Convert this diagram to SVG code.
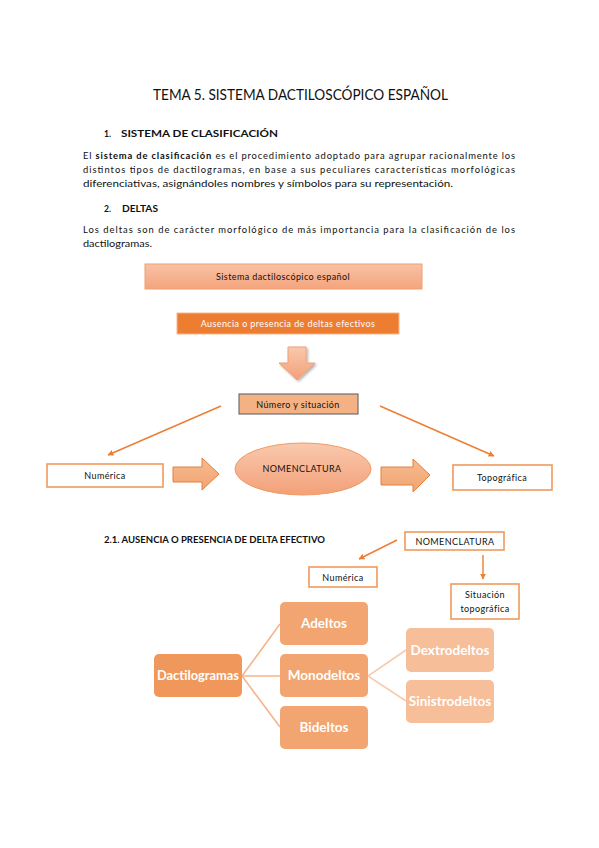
<svg xmlns="http://www.w3.org/2000/svg" width="599" height="848" viewBox="0 0 599 848">
<defs>
<style>
text{font-family:Lato,"Liberation Sans",sans-serif;fill:#111}
.t{font-size:15px}
.h{font-size:8.6px;font-weight:bold}
.p{font-size:9.4px}
.b{font-weight:bold}
.s{font-size:9px;text-anchor:middle;letter-spacing:0.4px}
.w{fill:#fff}
.tree{font-size:13.5px;font-weight:bold;fill:#fff;text-anchor:middle}
.wbox{fill:#fff;stroke:#f09a5e;stroke-width:1.6}
.con{fill:none;stroke:#ed7d31;stroke-width:1.4}
.bl{fill:none;stroke:#f5b58c;stroke-width:1.6}
.bl2{fill:none;stroke:#f8cbad;stroke-width:1.6}
.barrow{fill:url(#ga);stroke:#e0803e;stroke-width:1}
</style>
<linearGradient id="gs" x1="0" y1="0" x2="0" y2="1"><stop offset="0" stop-color="#f8c2a6"/><stop offset="1" stop-color="#f4a47c"/></linearGradient>
<linearGradient id="ge" x1="0" y1="0" x2="0" y2="1"><stop offset="0" stop-color="#f9c9ae"/><stop offset="1" stop-color="#f3a078"/></linearGradient>
<linearGradient id="ga" x1="0" y1="0" x2="0" y2="1"><stop offset="0" stop-color="#f6bb92"/><stop offset="1" stop-color="#f2a46f"/></linearGradient>
<marker id="ah" viewBox="0 0 10 10" refX="9" refY="5" markerWidth="6" markerHeight="6" orient="auto" markerUnits="userSpaceOnUse"><path d="M0,0 L10,5 L0,10 z" fill="#ed7d31"/></marker>
<filter id="sh" x="-20%" y="-20%" width="150%" height="150%"><feDropShadow dx="1.5" dy="1.5" stdDeviation="1.2" flood-color="#000" flood-opacity="0.3"/></filter>
</defs>

<g id="texto">
<text class="t" x="153" y="100" textLength="295" lengthAdjust="spacingAndGlyphs">TEMA 5. SISTEMA DACTILOSCÓPICO ESPAÑOL</text>
<text class="h" x="104" y="137">1.</text>
<text class="h" x="121" y="137" textLength="157" lengthAdjust="spacingAndGlyphs">SISTEMA DE CLASIFICACIÓN</text>
<text class="p" x="83" y="159" textLength="432" lengthAdjust="spacing">El <tspan class="b">sistema de clasificación</tspan> es el procedimiento adoptado para agrupar racionalmente los</text>
<text class="p" x="83" y="173" textLength="432" lengthAdjust="spacing">distintos tipos de dactilogramas, en base a sus peculiares características morfológicas</text>
<text class="p" x="83" y="187" textLength="370" lengthAdjust="spacingAndGlyphs">diferenciativas, asignándoles nombres y símbolos para su representación.</text>
<text class="h" x="104" y="212">2.</text>
<text class="h" x="122" y="212" textLength="36" lengthAdjust="spacingAndGlyphs">DELTAS</text>
<text class="p" x="83" y="233" textLength="432" lengthAdjust="spacing">Los deltas son de carácter morfológico de más importancia para la clasificación de los</text>
<text class="p" x="83" y="247" textLength="69" lengthAdjust="spacingAndGlyphs">dactilogramas.</text>
<text class="h" x="104" y="543" textLength="221" lengthAdjust="spacingAndGlyphs">2.1. AUSENCIA O PRESENCIA DE DELTA EFECTIVO</text>
</g>

<g id="connectors">
<line class="con" x1="221" y1="406" x2="108" y2="455" marker-end="url(#ah)"/>
<line class="con" x1="380" y1="406" x2="494" y2="456" marker-end="url(#ah)"/>
<line class="con" x1="397" y1="540" x2="359" y2="559" marker-end="url(#ah)"/>
<line class="con" x1="483" y1="555" x2="483" y2="579" marker-end="url(#ah)"/>
<polyline class="bl" points="280,624 242,676 280,676"/>
<line class="bl" x1="242" y1="676" x2="280" y2="727"/>
<polyline class="bl2" points="406,650 368,676 406,701"/>
</g>

<g id="n-sistema">
<rect x="145" y="264" width="277" height="25" fill="url(#gs)" stroke="#f0a070" stroke-width="1"/>
<text class="s" x="283" y="280" letter-spacing="0">Sistema dactiloscópico español</text>
</g>

<g id="n-ausencia">
<rect x="177" y="313" width="222" height="21" fill="#ed7d31" stroke="#f6b890" stroke-width="1"/>
<text class="s w" x="288" y="327">Ausencia o presencia de deltas efectivos</text>
</g>

<g id="n-flecha-abajo">
<path d="M288,347 H306 V363 H315 L297,380 L279,363 H288 Z" fill="url(#ge)" stroke="#f0a070" stroke-width="1" filter="url(#sh)"/>
</g>

<g id="n-numero">
<rect x="239" y="394" width="119" height="20" fill="#f4b183" stroke="#6f6f6f" stroke-width="1.2"/>
<text class="s" x="298" y="408">Número y situación</text>
</g>

<g id="n-numerica1">
<rect class="wbox" x="47" y="464" width="116" height="23"/>
<text class="s" x="105" y="479">Numérica</text>
</g>

<g id="n-flecha1">
<path class="barrow" d="M173,467 H202 V458 L219,474 L202,490 V482 H173 Z"/>
</g>

<g id="n-nomenclatura1">
<ellipse cx="303" cy="469" rx="68" ry="26" fill="url(#ge)" stroke="#f09a62" stroke-width="1"/>
<text class="s" x="302" y="472">NOMENCLATURA</text>
</g>

<g id="n-flecha2">
<path class="barrow" d="M381,467 H413 V459 L430,475 L413,492 V485 H381 Z"/>
</g>

<g id="n-topografica">
<rect class="wbox" x="453" y="465" width="99" height="25"/>
<text class="s" x="502" y="481">Topográfica</text>
</g>

<g id="n-nomenclatura2">
<rect class="wbox" x="405" y="532" width="99" height="18"/>
<text class="s" x="455" y="545">NOMENCLATURA</text>
</g>

<g id="n-numerica2">
<rect class="wbox" x="309" y="567" width="68" height="20"/>
<text class="s" x="343" y="581">Numérica</text>
</g>

<g id="n-situacion">
<rect class="wbox" x="451" y="584" width="68" height="35"/>
<text class="s" x="485" y="598">Situación</text>
<text class="s" x="485" y="612">topográfica</text>
</g>

<g id="n-dactilogramas">
<rect x="154" y="654" width="88" height="43" rx="5" fill="#f0975c"/>
<text class="tree" x="198" y="680" textLength="82" lengthAdjust="spacingAndGlyphs">Dactilogramas</text>
</g>

<g id="n-adeltos">
<rect x="280" y="602" width="88" height="43" rx="5" fill="#f2a570"/>
<text class="tree" x="324" y="628">Adeltos</text>
</g>

<g id="n-monodeltos">
<rect x="280" y="654" width="88" height="43" rx="5" fill="#f2a570"/>
<text class="tree" x="324" y="680">Monodeltos</text>
</g>

<g id="n-bideltos">
<rect x="280" y="706" width="88" height="43" rx="5" fill="#f2a570"/>
<text class="tree" x="324" y="732">Bideltos</text>
</g>

<g id="n-dextrodeltos">
<rect x="406" y="628" width="88" height="44" rx="5" fill="#f6be99"/>
<text class="tree" x="450" y="655">Dextrodeltos</text>
</g>

<g id="n-sinistrodeltos">
<rect x="406" y="680" width="88" height="43" rx="5" fill="#f6be99"/>
<text class="tree" x="450" y="706">Sinistrodeltos</text>
</g>
</svg>
